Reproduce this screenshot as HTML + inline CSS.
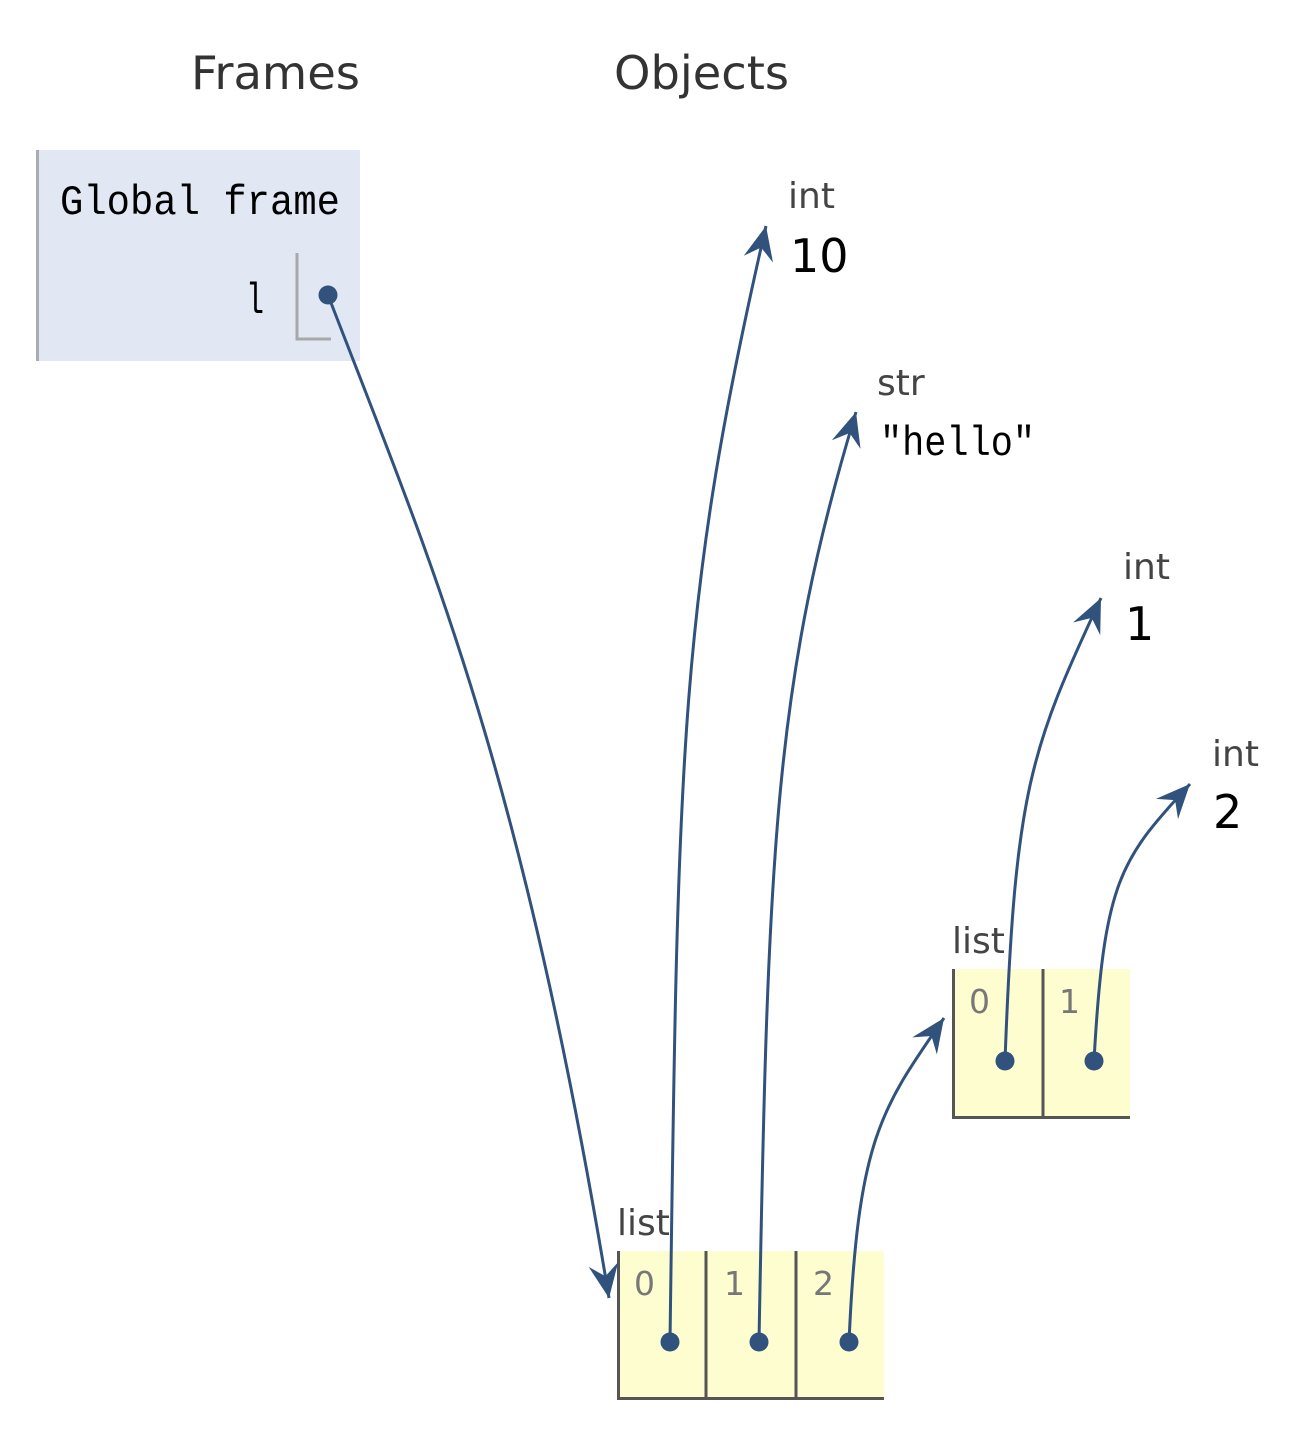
<!DOCTYPE html>
<html><head><meta charset="utf-8"><style>
html,body{margin:0;padding:0;background:#fff;}
svg{display:block}
.lbl{font-family:"DejaVu Sans","Liberation Sans",sans-serif;fill:#444;}
.mono{font-family:"Liberation Mono","DejaVu Sans Mono",monospace;fill:#000;}
.val{font-family:"DejaVu Sans","Liberation Sans",sans-serif;fill:#000;}
.idx{font-family:"DejaVu Sans","Liberation Sans",sans-serif;fill:#777;font-size:33px;}
</style></head><body>
<svg width="1310" height="1441" viewBox="0 0 1310 1441" xmlns="http://www.w3.org/2000/svg">
<defs>
<marker id="ah" markerUnits="userSpaceOnUse" markerWidth="44" markerHeight="44" refX="0" refY="0" viewBox="-34 -22 44 44" orient="auto">
<path d="M0,0 L-34,-15 L-22,0 L-34,15 Z" fill="#30527c"/>
</marker>
</defs>
<text x="191" y="89" class="lbl" font-size="46" style="fill:#333" textLength="169" lengthAdjust="spacingAndGlyphs">Frames</text>
<text x="614" y="89" class="lbl" font-size="46" style="fill:#333" textLength="175" lengthAdjust="spacingAndGlyphs">Objects</text>

<rect x="36" y="150" width="324" height="211" fill="#e2e8f3"/>
<rect x="36" y="150" width="3" height="211" fill="#a8adb0"/>
<text x="60" y="214" class="mono" font-size="42" textLength="280" lengthAdjust="spacingAndGlyphs">Global frame</text>
<text x="246" y="313" class="mono" font-size="44" textLength="18" lengthAdjust="spacingAndGlyphs">l</text>
<path d="M297,253 V339 H331" fill="none" stroke="#a8a8a8" stroke-width="3"/>

<rect x="617" y="1251" width="267" height="149" fill="#fdfdcf"/>
<path d="M618.5,1251 V1398.5 H884 M706,1251 V1400 M796,1251 V1400" fill="none" stroke="#555" stroke-width="3"/>
<text x="617" y="1235" class="lbl" font-size="36">list</text>
<text x="634" y="1295" class="idx">0</text>
<text x="724" y="1295" class="idx">1</text>
<text x="813" y="1295" class="idx">2</text>

<rect x="952" y="969" width="178" height="149" fill="#fdfdcf"/>
<path d="M953.5,969 V1117.5 H1130 M1043,969 V1118" fill="none" stroke="#555" stroke-width="3"/>
<text x="952" y="953" class="lbl" font-size="36">list</text>
<text x="969" y="1013" class="idx">0</text>
<text x="1059" y="1013" class="idx">1</text>

<text x="788" y="208" class="lbl" font-size="36">int</text>
<text x="790" y="272" class="val" font-size="46">10</text>
<text x="877" y="395" class="lbl" font-size="36">str</text>
<text x="880" y="455" class="mono" font-size="42" textLength="155" lengthAdjust="spacingAndGlyphs">"hello"</text>
<text x="1123" y="579" class="lbl" font-size="36">int</text>
<text x="1125" y="640" class="val" font-size="46">1</text>
<text x="1212" y="766" class="lbl" font-size="36">int</text>
<text x="1213" y="828" class="val" font-size="46">2</text>

<g fill="none" stroke="#30527c" stroke-width="3" marker-end="url(#ah)">
<path d="M328,295 C430,560 520,760 609,1298"/>
<path d="M670,1342 C678,740 680,600 766,226"/>
<path d="M759,1342 C768,840 775,680 856,412"/>
<path d="M849,1342 C858,1140 880,1110 944,1018"/>
<path d="M1005,1061 C1015,790 1030,750 1101,598"/>
<path d="M1094,1061 C1104,880 1120,860 1190,784"/>
</g>
<g fill="#30527c">
<circle cx="328" cy="295" r="9.5"/>
<circle cx="670" cy="1342" r="9.5"/>
<circle cx="759" cy="1342" r="9.5"/>
<circle cx="849" cy="1342" r="9.5"/>
<circle cx="1005" cy="1061" r="9.5"/>
<circle cx="1094" cy="1061" r="9.5"/>
</g>
</svg>
</body></html>
